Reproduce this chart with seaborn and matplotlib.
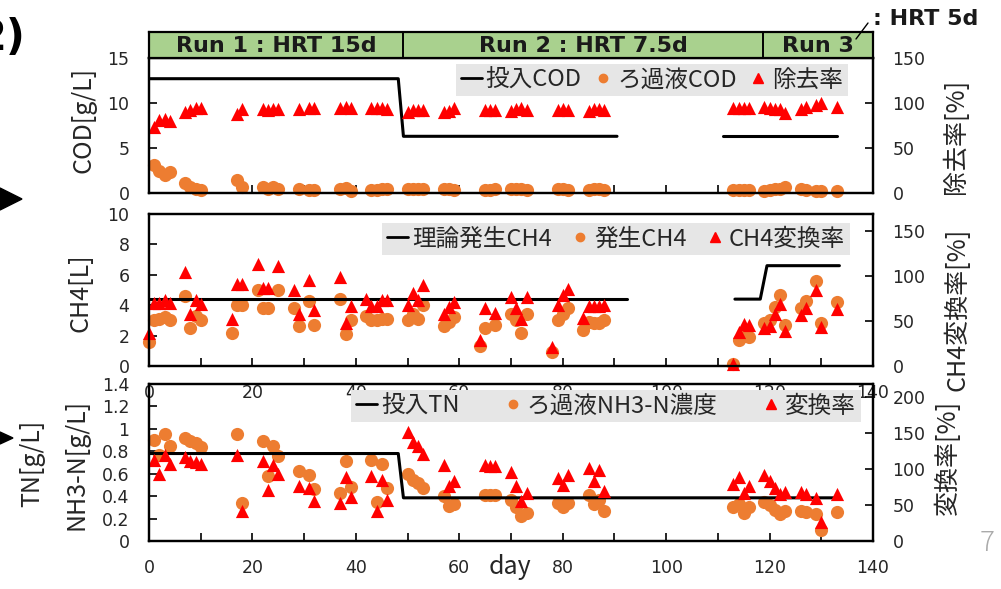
import seaborn as sns
import matplotlib.pyplot as plt
from matplotlib.lines import Line2D
from matplotlib.patches import Polygon
from matplotlib.ticker import MultipleLocator, FuncFormatter

# ---- COD panel ----
cod_days = [1, 2, 3, 4, 7, 8, 9, 10, 17, 18, 22, 23, 24, 25, 29, 31, 32, 37, 38, 39, 43, 44, 45, 46,
            50, 51, 52, 53, 57, 58, 59, 65, 66, 67, 70, 71, 72, 73, 79, 80, 81, 85, 86, 87, 88,
            113, 114, 115, 116, 119, 120, 121, 122, 123, 126, 127, 129, 130, 133]
cod_filtrate = [3.1, 2.4, 2.0, 2.3, 1.1, 0.7, 0.5, 0.3, 1.4, 0.7, 0.7, 0.5, 0.7, 0.5, 0.5, 0.3, 0.3, 0.5,
                0.6, 0.2, 0.3, 0.3, 0.4, 0.5,
                0.5, 0.4, 0.4, 0.4, 0.4, 0.5, 0.3, 0.3, 0.3, 0.4, 0.4, 0.4, 0.4, 0.3, 0.4, 0.4, 0.3,
                0.3, 0.4, 0.4, 0.3,
                0.3, 0.3, 0.3, 0.3, 0.2, 0.3, 0.4, 0.5, 0.7, 0.4, 0.3, 0.2, 0.2, 0.2]
cod_removal = [73, 81, 82, 80, 90, 92, 94, 94, 88, 93, 93, 92, 93, 93, 93, 94, 94, 94, 96, 94, 95, 95, 95, 93,
               90, 92, 92, 92, 90, 91, 94, 92, 92, 92, 91, 93, 94, 92, 92, 93, 92, 91, 93, 93, 92,
               95, 95, 95, 95, 96, 94, 93, 93, 89, 93, 96, 98, 100, 96]
cod_in_day = [0, 48.2, 49.2, 90.5, 111, 133]
cod_in_val = [12.7, 12.7, 6.3, 6.3, 6.3, 6.3]
cod_in_seg = [0, 0, 0, 0, 1, 1]

# ---- CH4 panel ----
ch4_days = [0, 1, 2, 3, 4, 7, 8, 9, 10, 16, 17, 18, 21, 22, 23, 25, 28, 29, 31, 32, 37, 38, 39,
            42, 43, 44, 45, 46,
            50, 51, 52, 53, 57, 58, 59, 64, 65, 67, 70, 71, 72, 73, 78, 79, 80, 81, 84, 85, 86, 87, 88,
            113, 114, 115, 116, 119, 120, 121, 122, 123, 126, 127, 129, 130, 133]
ch4_gas = [1.6, 3.0, 3.1, 3.2, 3.05, 4.6, 2.5, 3.3, 3.0, 2.2, 4.0, 4.0, 5.0, 3.8, 3.8, 5.0, 3.8, 2.6,
           4.3, 2.7, 4.4, 2.1, 3.0, 3.3, 3.0, 3.0, 3.1, 3.1,
           3.0, 3.4, 3.1, 4.0, 2.6, 2.9, 3.2, 1.3, 2.5, 2.7, 3.4, 3.05, 2.2, 3.4, 0.9, 3.0, 3.4, 3.8,
           2.35, 2.9, 2.8, 2.8, 3.0,
           0.1, 1.7, 2.0, 1.9, 2.8, 3.0, 3.9, 4.7, 2.7, 3.8, 4.3, 5.6, 2.8, 4.2]
ch4_conv = [37, 70, 70, 73, 70, 104, 58, 73, 69, 52, 91, 91, 113, 87, 87, 111, 84, 58, 96, 62, 99, 48,
            67, 75, 67, 67, 73, 73,
            68, 81, 73, 90, 58, 66, 71, 29, 65, 59, 77, 64, 52, 77, 21, 68, 79, 86, 53, 67, 67, 67, 68,
            2, 38, 47, 46, 42, 44, 58, 69, 39, 57, 65, 84, 43, 63]
ch4_th_day = [0, 92.4, 113.3, 118.2, 119.5, 133.5]
ch4_th_val = [4.4, 4.4, 4.4, 4.4, 6.6, 6.6]
ch4_th_seg = [0, 0, 1, 1, 1, 1]

# ---- TN / NH3-N panel ----
tn_days = cod_days
nh3_filtrate = [0.90, 0.77, 0.95, 0.85, 0.92, 0.89, 0.87, 0.84, 0.95, 0.34, 0.89, 0.58, 0.85, 0.76,
                0.62, 0.59, 0.46, 0.43, 0.71, 0.48, 0.72, 0.35, 0.69, 0.47,
                0.60, 0.54, 0.52, 0.47, 0.40, 0.31, 0.33, 0.41, 0.41, 0.41, 0.37, 0.30, 0.22, 0.25,
                0.34, 0.30, 0.34, 0.41, 0.33, 0.37, 0.27,
                0.30, 0.33, 0.25, 0.30, 0.35, 0.32, 0.28, 0.245, 0.27, 0.27, 0.26, 0.245, 0.10, 0.26]
n_conv = [112, 93, 119, 107, 116, 111, 110, 107, 119, 41, 111, 71, 105, 93, 77, 74, 56, 53, 89, 61,
          90, 42, 85, 57,
          152, 137, 132, 121, 105, 77, 84, 105, 104, 104, 96, 76, 56, 67, 88, 78, 91, 101, 84, 98, 69,
          79, 89, 67, 76, 92, 84, 74, 65, 68, 68, 65, 60, 26, 65]
tn_in_day = [0, 48.2, 49.2, 132.5]
tn_in_val = [0.78, 0.78, 0.385, 0.385]

run_edges = [0, 49.2, 118.7, 140]
run_labels = ["Run 1 : HRT 15d", "Run 2 : HRT 7.5d", "Run 3"]

ORANGE = "#ed7d31"
RED = "#ff0000"
GREEN = "#a9d18e"
TXT = "#262626"
JP = ["Noto Sans CJK JP", "DejaVu Sans"]

sns.set_theme(style="white")
plt.rcParams["font.family"] = ["DejaVu Sans", "Noto Sans CJK JP"]

W, H = 1001, 589
fig = plt.figure(figsize=(W / 100, H / 100), dpi=100)


def px_axes(x0, y0, x1, y1):
    return fig.add_axes([x0 / W, 1 - y1 / H, (x1 - x0) / W, (y1 - y0) / H])


def style(ax, ylim, ystep, fmt=None):
    for s in ax.spines.values():
        s.set_visible(True)
        s.set_color("black")
        s.set_linewidth(1.6)
    ax.set_ylim(*ylim)
    ax.yaxis.set_major_locator(MultipleLocator(ystep))
    if fmt is not None:
        ax.yaxis.set_major_formatter(fmt)
    ax.tick_params(which="both", direction="in", length=6, width=1.2, color="black",
                   labelsize=12.5, labelcolor=TXT, pad=14)
    ax.set_xlabel("")
    ax.set_ylabel("")


def xaxis(ax, labels=True):
    ax.set_xlim(0, 140)
    ax.xaxis.set_major_locator(MultipleLocator(20))
    ax.xaxis.set_minor_locator(MultipleLocator(10))
    ax.tick_params(axis="x", which="both", bottom=True, top=False, pad=12, labelbottom=labels)


def scatter(ax, x, y, marker, color):
    sns.scatterplot(x=x, y=y, ax=ax, marker=marker, color=color, s=90, linewidth=0,
                    clip_on=False, legend=False)


def legend(ax, labels, cx, cy, colsp):
    handles = [Line2D([], [], color="black", lw=2),
               Line2D([], [], ls="none", marker="o", color=ORANGE, markersize=6),
               Line2D([], [], ls="none", marker="^", color=RED, markersize=7)]
    leg = ax.legend(handles, labels, loc="center", bbox_to_anchor=(cx / W, 1 - cy / H),
                    bbox_transform=fig.transFigure, ncol=3, frameon=True, fancybox=False,
                    facecolor="#e6e6e6", edgecolor="none", framealpha=1,
                    prop={"family": JP, "size": 17}, handlelength=0.9, handletextpad=0.15,
                    columnspacing=colsp, borderpad=0.2, borderaxespad=0)
    for t in leg.get_texts():
        t.set_color(TXT)
    leg.set_zorder(10)


# ---- top: COD ----
ax1 = px_axes(149, 58, 873, 193)
sns.lineplot(x=cod_in_day, y=cod_in_val, units=cod_in_seg, estimator=None, sort=False,
             color="black", lw=2.2, ax=ax1, legend=False)
scatter(ax1, cod_days, cod_filtrate, "o", ORANGE)
xaxis(ax1, labels=False)
style(ax1, (0, 15), 5)
t1 = ax1.twinx()
scatter(t1, cod_days, cod_removal, "^", RED)
style(t1, (0, 150), 50)
xaxis(t1, labels=False)
legend(t1, ["投入COD", "ろ過液COD", "除去率"], 652, 80, 0.45)

# run band
band = px_axes(149, 32, 873, 58)
band.set_facecolor(GREEN)
band.set_xlim(0, 140)
band.set_ylim(0, 1)
band.set_xticks([])
band.set_yticks([])
for s in band.spines.values():
    s.set_color("black")
    s.set_linewidth(1.6)
for e in run_edges[1:-1]:
    band.axvline(e, color="black", lw=1.4)
for i, lab in enumerate(run_labels):
    band.text((run_edges[i] + run_edges[i + 1]) / 2, 0.45, lab, ha="center", va="center",
              fontsize=16, fontweight="bold", color="#1a1a1a")
fig.add_artist(Line2D([856 / W, 868 / W], [1 - 39 / H, 1 - 23 / H], color="black", lw=1))
fig.text(873 / W, 1 - 19 / H, ": HRT 5d", fontsize=16, fontweight="bold", color="#1a1a1a",
         ha="left", va="center")

# ---- middle: CH4 ----
ax2 = px_axes(149, 214, 873, 366)
sns.lineplot(x=ch4_th_day, y=ch4_th_val, units=ch4_th_seg, estimator=None, sort=False,
             color="black", lw=2.2, ax=ax2, legend=False)
scatter(ax2, ch4_days, ch4_gas, "o", ORANGE)
xaxis(ax2)
style(ax2, (0, 10), 2)
ax2.tick_params(axis="x", pad=13)
t2 = ax2.twinx()
scatter(t2, ch4_days, ch4_conv, "^", RED)
style(t2, (0, 169), 50)
xaxis(t2, labels=False)
legend(t2, ["理論発生CH4", "発生CH4", "CH4変換率"], 616, 239, 0.75)

# ---- bottom: TN ----
ax3 = px_axes(149, 384, 873, 541)
ax3.set_facecolor("none")
sns.lineplot(x=tn_in_day, y=tn_in_val, color="black", lw=2.2, ax=ax3, sort=False,
             estimator=None, legend=False)
scatter(ax3, tn_days, nh3_filtrate, "o", ORANGE)
xaxis(ax3)
style(ax3, (0, 1.4), 0.2, FuncFormatter(lambda v, p: f"{v:g}"))
ax3.tick_params(axis="x", pad=13)
t3 = ax3.twinx()
scatter(t3, tn_days, n_conv, "^", RED)
style(t3, (0, 218), 50)
xaxis(t3, labels=False)
legend(t3, ["投入TN", "ろ過液NH3-N濃度", "変換率"], 606, 406, 1.8)

# axis titles
lab = dict(fontsize=18, color=TXT, family=JP, ha="center", va="center", rotation=90)
fig.text(83 / W, 1 - 120 / H, "COD[g/L]", **lab)
fig.text(81 / W, 1 - 293 / H, "CH4[L]", **lab)
fig.text(77 / W, 1 - 464 / H, "NH3-N[g/L]", **lab)
fig.text(32 / W, 1 - 463 / H, "TN[g/L]", **lab)
fig.text(956 / W, 1 - 136 / H, "除去率[%]", **lab)
fig.text(957 / W, 1 - 309 / H, "CH4変換率[%]", **lab)
fig.text(948 / W, 1 - 457 / H, "変換率[%]", **lab)
fig.text(510 / W, 1 - 567 / H, "day", fontsize=18, color=TXT, family=JP, ha="center", va="center")

# cropped page decorations
fig.text(26 / W, 1 - 38 / H, "2)", fontsize=30, fontweight="bold", color="black",
         ha="right", va="center")
fig.add_artist(Polygon([(0, 1 - 188 / H), (22 / W, 1 - 199 / H), (0, 1 - 210 / H)],
                       closed=True, transform=fig.transFigure, color="black"))
fig.add_artist(Polygon([(0, 1 - 432 / H), (13 / W, 1 - 438 / H), (0, 1 - 444 / H)],
                       closed=True, transform=fig.transFigure, color="black"))
fig.text(987 / W, 1 - 543 / H, "7", fontsize=20, color="#aaaaaa", ha="center", va="center",
         family=JP, fontweight="light")

fig.savefig("out.png", dpi=100)
